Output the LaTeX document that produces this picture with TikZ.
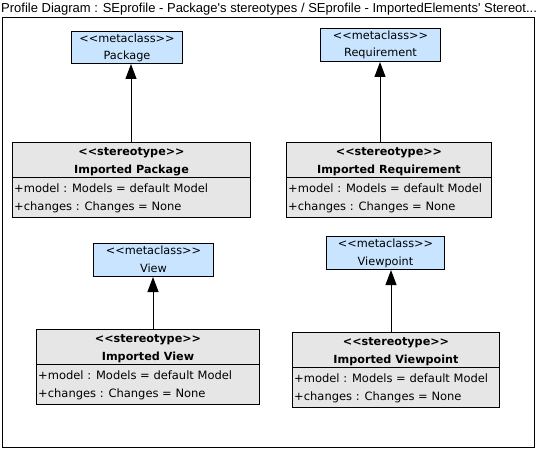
\documentclass[tikz,border=0pt]{standalone}
\usepackage{fontspec}
\setmainfont{DejaVu Sans}
\newfontfamily\titlefont{Liberation Sans}
\usetikzlibrary{arrows.meta,calc}
\definecolor{metablue}{RGB}{200,228,255}
\definecolor{stgray}{RGB}{230,230,230}
\newcommand\dlt{<\kern0pt<}
\newcommand\dgt{>\kern0pt>}
\newcommand\stclass[5]{% name, x, y, w, label
  \node[stbox,minimum width=#4,minimum height=75] (#1) at (#2,#3) {};
  \node[htext] (#1-s) at ($(#1.north)+(0,13.5)$) {\dlt stereotype\dgt};
  \node[htext] (#1-n) at ($(#1.north)+(0,31.5)$) {#5};
  \draw[sepline] ($(#1.north west)+(0,35.5)$) -- ($(#1.north east)+(0,35.5)$);
  \node[atext] (#1-a) at ($(#1.north west)+(2,50.5)$) {+model : Models = default Model};
  \node[atext] (#1-b) at ($(#1.north west)+(2,68.5)$) {+changes : Changes = None};
}
\newcommand\mclass[6]{% name, x, y, w, h, label
  \node[metabox,minimum width=#4,minimum height=#5] (#1) at (#2,#3) {};
  \node[mtext] (#1-s) at ($(#1.north)+(0,11.5)$) {\dlt metaclass\dgt};
  \node[mtext] (#1-n) at ($(#1.north)+(0,29)$) {#6};
}
\begin{document}
\begin{tikzpicture}[x=1pt,y=-1pt,
  box/.style={draw=black,line width=1pt,inner sep=0pt,anchor=north west,rectangle},
  metabox/.style={box,fill=metablue},
  stbox/.style={box,fill=stgray},
  sepline/.style={line width=1pt},
  mtext/.style={inner sep=0pt,anchor=base,font=\fontsize{11.3}{13}\selectfont},
  htext/.style={inner sep=0pt,anchor=base,font=\fontsize{11.2}{13}\selectfont\bfseries},
  atext/.style={inner sep=0pt,anchor=base west,font=\fontsize{11.5}{13}\selectfont},
  gen/.style={line width=1pt,-{Triangle[length=15pt,width=11pt]}},
]
\useasboundingbox (0,0) rectangle (540,449);
\node[inner sep=0pt,anchor=base west,font=\titlefont\fontsize{13}{15}\selectfont] (title) at (1,13)
  {Profile Diagram : SEprofile - Package\textquotesingle s stereotypes / SEprofile - ImportedElements\textquotesingle\ Stereot...};
\node[box,minimum width=532,minimum height=430] (frame) at (2,17) {};

\mclass{mpkg}{71}{31}{111}{32}{Package}
\mclass{mreq}{320}{28}{120}{33}{Requirement}
\mclass{mview}{93}{243}{120}{33}{View}
\mclass{mvp}{326}{236}{118}{33}{Viewpoint}

\stclass{ipkg}{12}{142}{238}{Imported Package}
\stclass{ireq}{286}{142}{205}{Imported Requirement}
\stclass{iview}{36}{329}{223}{Imported View}
\stclass{ivp}{292}{332}{207}{Imported Viewpoint}

\coordinate (xa) at (131,0);
\coordinate (xb) at (380,0);
\coordinate (xc) at (153,0);
\coordinate (xd) at (391,0);
\draw[gen] (ipkg.north -| xa) -- (mpkg.south -| xa);
\draw[gen] (ireq.north -| xb) -- (mreq.south -| xb);
\draw[gen] (iview.north -| xc) -- (mview.south -| xc);
\draw[gen] (ivp.north -| xd) -- (mvp.south -| xd);
\end{tikzpicture}
\end{document}
